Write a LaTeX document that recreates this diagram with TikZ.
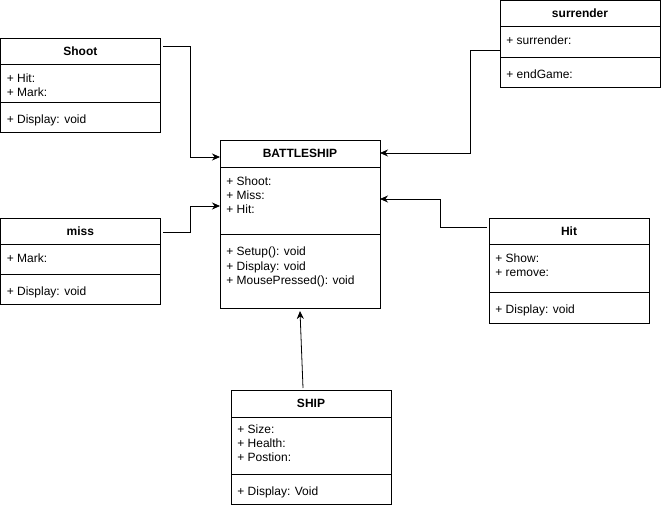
\documentclass[tikz,border=0pt]{standalone}
\usepackage{fontspec}
\setmainfont{Liberation Sans}
\usetikzlibrary{positioning,arrows.meta}

\begin{document}
\begin{tikzpicture}[x=1pt,y=-1pt,line width=0.8pt,
  classname/.style={draw,anchor=north west,outer sep=0pt,inner sep=0pt,minimum width=160pt,minimum height=26pt,font=\fontsize{12}{14}\selectfont\bfseries},
  compartment/.style={draw,outer sep=0pt,inner sep=0pt,minimum width=160pt,below=0pt of #1},
  members/.style={anchor=north west,align=left,inner sep=0pt,font=\fontsize{12}{14}\selectfont},
  operations/.style={members,font=\fontsize{12}{14.5}\selectfont},
  link/.style={-{Stealth[length=8pt,width=7pt]}}]
\useasboundingbox (0,0) rectangle (661,508);

\node[classname] (shoot) at (0.4,38) {Shoot};
\node[compartment=shoot,minimum height=38pt] (shoot attr) {};
\node[compartment=shoot attr,minimum height=30pt] (shoot ops) {};
\node[members] (shoot attr text) at ([shift={(6,9.5)}]shoot attr.north west) {+ Hit:\\+ Mark:};
\node[operations] (shoot ops text) at ([shift={(6,12.5)}]shoot ops.north west) {+ Display: void};

\node[classname] (surrender) at (500,0.4) {surrender};
\node[compartment=surrender,minimum height=31pt] (surrender attr) {};
\node[compartment=surrender attr,minimum height=30pt] (surrender ops) {};
\node[members] (surrender attr text) at ([shift={(6,9.5)}]surrender attr.north west) {+ surrender:};
\node[operations] (surrender ops text) at ([shift={(6,12.5)}]surrender ops.north west) {+ endGame:};

\node[classname,minimum height=27pt] (battleship) at (220,140) {BATTLESHIP};
\node[compartment=battleship,minimum height=67pt] (battleship attr) {};
\node[compartment=battleship attr,minimum height=74pt] (battleship ops) {};
\node[members] (battleship attr text) at ([shift={(6,9)}]battleship attr.north west) {+ Shoot:\\+ Miss:\\+ Hit:};
\node[operations] (battleship ops text) at ([shift={(6,12.5)}]battleship ops.north west) {+ Setup(): void\\+ Display: void\\+ MousePressed(): void};

\node[classname] (miss) at (0.4,218) {miss};
\node[compartment=miss,minimum height=30pt] (miss attr) {};
\node[compartment=miss attr,minimum height=30pt] (miss ops) {};
\node[members] (miss attr text) at ([shift={(6,9.5)}]miss attr.north west) {+ Mark:};
\node[operations] (miss ops text) at ([shift={(6,12.5)}]miss ops.north west) {+ Display: void};

\node[classname] (hit) at (489,218) {Hit};
\node[compartment=hit,minimum height=48pt] (hit attr) {};
\node[compartment=hit attr,minimum height=31pt] (hit ops) {};
\node[members] (hit attr text) at ([shift={(6,9.5)}]hit attr.north west) {+ Show:\\+ remove:};
\node[operations] (hit ops text) at ([shift={(6,12.5)}]hit ops.north west) {+ Display: void};

\node[classname,minimum height=27pt] (ship) at (231,390) {SHIP};
\node[compartment=ship,minimum height=57pt] (ship attr) {};
\node[compartment=ship attr,minimum height=30pt] (ship ops) {};
\node[members] (ship attr text) at ([shift={(6,7.5)}]ship attr.north west) {+ Size:\\+ Health:\\+ Postion:};
\node[operations] (ship ops text) at ([shift={(6,12.5)}]ship ops.north west) {+ Display: Void};

\draw[link] ([xshift=3pt,yshift=5pt]shoot.east) -- ++(27,0) |- ([yshift=-3.5pt]battleship.west);
\draw[link] ([xshift=3pt,yshift=-1pt]miss.east) -- ++(27,0) |- ([yshift=-5.5pt]battleship attr.west);
\draw[link] ([yshift=-9pt]surrender attr.west) -- ++(-30,0) |- ([yshift=0.5pt]battleship.east);
\draw[link] ([xshift=-2pt,yshift=4pt]hit.west) -- ++(-47,0) |- ([yshift=1.5pt]battleship attr.east);
\draw[link] ([xshift=-8pt,yshift=2pt]ship.north) -- ([yshift=-3pt]battleship ops.south);
\end{tikzpicture}
\end{document}
